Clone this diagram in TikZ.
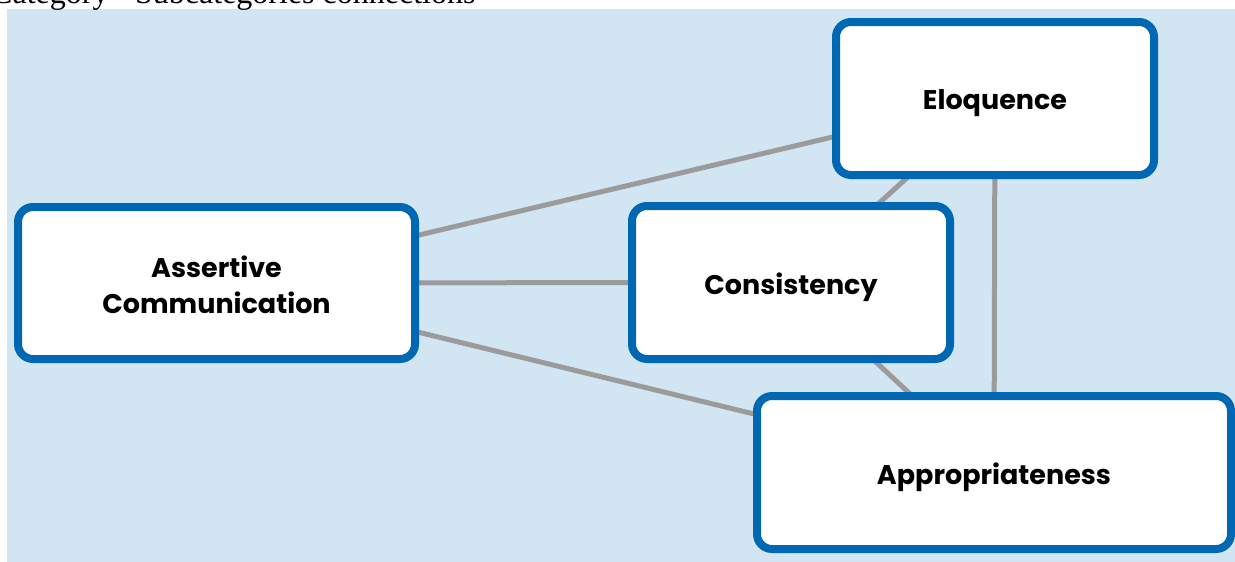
\documentclass[tikz,border=0pt]{standalone}
\usepackage{fontspec}
\setmainfont{Liberation Serif}
\newfontfamily\boxfont{Poppins}
\usetikzlibrary{backgrounds}
\definecolor{bgblue}{RGB}{210,229,242}
\definecolor{boxblue}{RGB}{0,104,178}
\definecolor{linkgray}{RGB}{155,155,155}
\newcommand{\lowertext}[1]{\raisebox{-5pt}[\height][\depth]{#1}}
\tikzset{
  catbox/.style={draw=boxblue, line width=8pt, fill=white, rounded corners=15pt,
    inner sep=0pt, font=\boxfont\bfseries\fontsize{27}{36}\selectfont},
  link/.style={draw=linkgray, line width=5pt}
}
\begin{document}
\begin{tikzpicture}[x=1pt,y=-1pt]
\useasboundingbox (0,0) rectangle (1235,562);
\node[anchor=base west, font=\fontsize{32}{36}\selectfont, inner sep=0pt] (title) at (-9,3.5) {Category - Subcategories connections};
\node[catbox, minimum width=397pt, minimum height=152pt] (assert) at (216.5,283) {\lowertext{\begin{tabular}{@{}c@{}}Assertive\\Communication\end{tabular}}};
\node[catbox, minimum width=318pt, minimum height=153pt] (eloq) at (995,98.5) {\lowertext{Eloquence}};
\node[catbox, minimum width=318pt, minimum height=153pt] (cons) at (791,282.5) {\lowertext{Consistency}};
\node[catbox, minimum width=474pt, minimum height=153pt] (appr) at (994,472.5) {\lowertext{Appropriateness}};
\begin{scope}[on background layer]
\fill[bgblue] (7,9) rectangle (1235,562);
\draw[link] (assert.center) -- (eloq.center);
\draw[link] (assert.center) -- (cons.center);
\draw[link] (assert.center) -- (appr.center);
\draw[link] (eloq.center) -- (cons.center);
\draw[link] (cons.center) -- (appr.center);
\draw[link] (eloq.center) -- (appr.center);
\end{scope}
\end{tikzpicture}
\end{document}
